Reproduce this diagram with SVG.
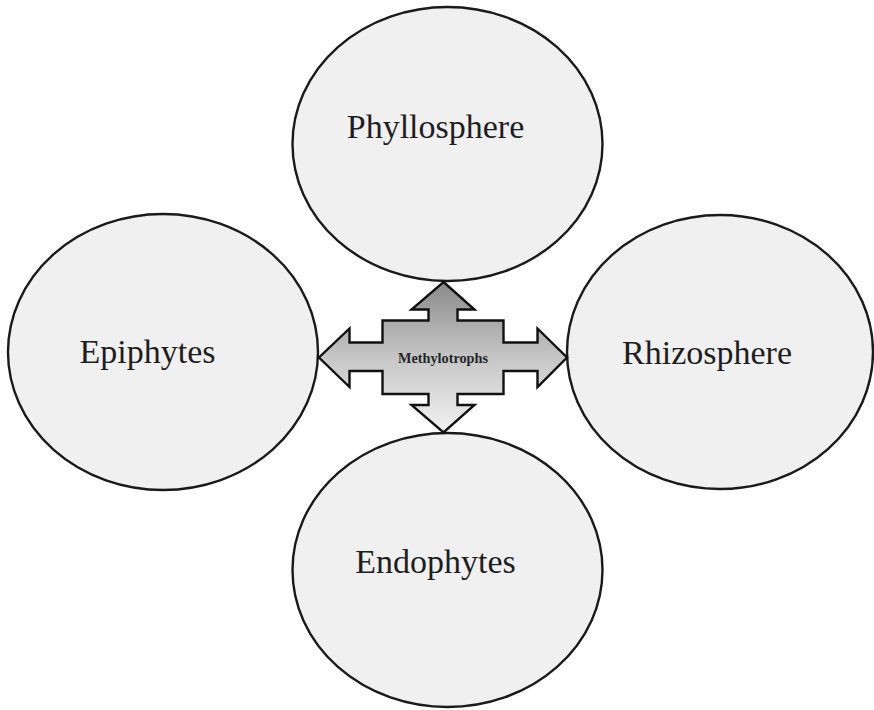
<svg xmlns="http://www.w3.org/2000/svg" width="874" height="710" viewBox="0 0 874 710">
  <defs>
    <linearGradient id="arrowGrad" x1="0" y1="0" x2="0" y2="1">
      <stop offset="0" stop-color="#8a8a8a"/>
      <stop offset="0.5" stop-color="#c6c6c6"/>
      <stop offset="1" stop-color="#f2f2f2"/>
    </linearGradient>
    <style>
      .bubble { fill: #f0f0f0; stroke: #1a1a1a; stroke-width: 2.4; }
      .label { font-family: "Liberation Serif", "Times New Roman", serif; font-size: 34px; fill: #1e1e1e; text-anchor: middle; }
      .center-label { font-family: "Liberation Serif", "Times New Roman", serif; font-size: 14px; font-weight: bold; fill: #262626; text-anchor: middle; }
      .arrow { fill: url(#arrowGrad); stroke: #111; stroke-width: 2.4; stroke-linejoin: miter; }
    </style>
  </defs>
  <rect width="874" height="710" fill="#ffffff"/>

  <g id="phyllosphere">
    <ellipse class="bubble" cx="447.5" cy="144" rx="155" ry="137"/>
    <text class="label" x="435.5" y="138">Phyllosphere</text>
  </g>
  <g id="epiphytes">
    <ellipse class="bubble" cx="163" cy="352" rx="155" ry="138"/>
    <text class="label" x="147.5" y="363">Epiphytes</text>
  </g>
  <g id="rhizosphere">
    <ellipse class="bubble" cx="720" cy="352" rx="153" ry="137"/>
    <text class="label" x="707" y="364">Rhizosphere</text>
  </g>
  <g id="endophytes">
    <ellipse class="bubble" cx="447.5" cy="570" rx="155" ry="137"/>
    <text class="label" x="435.5" y="573">Endophytes</text>
  </g>

  <g id="connectors">
    <path class="arrow" d="M443.5,282 L474.5,309.5 L457.5,309.5 L457.5,320.5 L503.5,320.5 L503.5,342.5 L537.5,342.5 L537.5,328.5 L567,357.5 L537.5,387 L537.5,371 L503.5,371 L503.5,394 L457.5,394 L457.5,405 L474.5,405 L443.5,432.5 L411.5,405 L428.5,405 L428.5,394 L382.5,394 L382.5,371 L349.5,371 L349.5,387 L319,357.5 L349.5,328.5 L349.5,342.5 L382.5,342.5 L382.5,320.5 L428.5,320.5 L428.5,309.5 L411.5,309.5 Z"/>
  </g>

  <g id="methylotrophs">
    <text class="center-label" x="443" y="363" textLength="90" lengthAdjust="spacingAndGlyphs">Methylotrophs</text>
  </g>
</svg>
